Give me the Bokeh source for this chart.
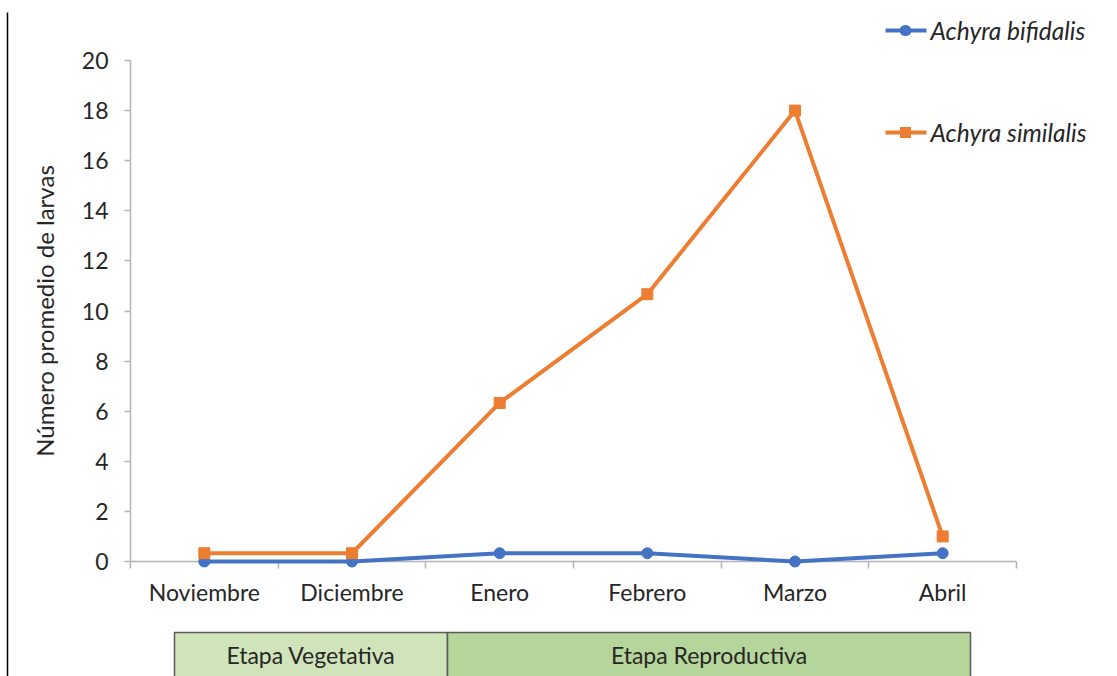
from bokeh.plotting import figure
from bokeh.models import Range1d, FixedTicker
from bokeh.core.properties import value
from bokeh.embed import file_html
from bokeh.resources import INLINE

# --- data -------------------------------------------------------------
meses = ["Noviembre", "Diciembre", "Enero", "Febrero", "Marzo", "Abril"]
bifidalis = [0.0, 0.0, 0.33, 0.33, 0.0, 0.33]
similalis = [0.33, 0.33, 6.33, 10.67, 18.0, 1.0]
y_ticks = list(range(0, 21, 2))
etapas = ["Etapa Vegetativa", "Etapa Reproductiva"]
especies = ["Achyra bifidalis", "Achyra similalis"]

# --- layout constants (pixels) ---------------------------------------
W, H = 1117, 676
FRAME_L, FRAME_R, FRAME_T, FRAME_B = 130, 1016, 60, 561
Y_MAX = 20
N = len(meses)
px_x = (FRAME_R - FRAME_L) / N
px_y = (FRAME_B - FRAME_T) / Y_MAX


def dx(px):
    return (px - FRAME_L) / px_x


def dy(py):
    return (FRAME_B - py) / px_y


FONT = value("Lato")
BLUE = "#4472C4"
ORANGE = "#ED7D31"
AXIS_GREY = "#B4B4B4"
TEXT = "#262626"

xs = [i + 0.5 for i in range(N)]

p = figure(
    width=W, height=H, output_backend="svg", toolbar_location=None,
    x_range=Range1d(0, N), y_range=Range1d(0, Y_MAX),
    min_border_left=FRAME_L, min_border_right=W - FRAME_R,
    min_border_top=FRAME_T, min_border_bottom=H - FRAME_B,
    background_fill_color="white", border_fill_color="white",
)
p.outline_line_color = None
p.xgrid.visible = False
p.ygrid.visible = False

# x axis: month names centred between tick marks
xa = p.xaxis[0]
xa.ticker = FixedTicker(ticks=xs, minor_ticks=list(range(N + 1)))
xa.major_label_overrides = {x: m for x, m in zip(xs, meses)}
xa.major_tick_out = 0
xa.major_tick_in = 0
xa.minor_tick_out = 7
xa.minor_tick_in = 0
xa.minor_tick_line_color = AXIS_GREY
xa.minor_tick_line_width = 1.5
xa.axis_line_color = AXIS_GREY
xa.axis_line_width = 1.5
xa.major_label_text_font = "Lato"
xa.major_label_text_font_size = "23px"
xa.major_label_text_color = TEXT
xa.major_label_standoff = 9

# y axis
ya = p.yaxis[0]
ya.ticker = FixedTicker(ticks=y_ticks, minor_ticks=[])
ya.major_tick_out = 6
ya.major_tick_in = 0
ya.major_tick_line_color = AXIS_GREY
ya.major_tick_line_width = 1.5
ya.axis_line_color = AXIS_GREY
ya.axis_line_width = 1.5
ya.major_label_text_font = "Lato"
ya.major_label_text_font_size = "23px"
ya.major_label_text_color = TEXT
ya.major_label_standoff = 16
ya.axis_label = "Número promedio de larvas"
ya.axis_label_text_font = "Lato"
ya.axis_label_text_font_size = "24px"
ya.axis_label_text_font_style = "normal"
ya.axis_label_text_color = TEXT
ya.axis_label_standoff = 20

# series (drawn at overlay level so markers on the zero line are not cut)
p.line(xs, bifidalis, line_color=BLUE, line_width=4, level="overlay")
p.scatter(xs, bifidalis, marker="circle", size=11, fill_color=BLUE,
          line_color=BLUE, level="overlay")
p.line(xs, similalis, line_color=ORANGE, line_width=4, level="overlay")
p.scatter(xs, similalis, marker="square", size=11, fill_color=ORANGE,
          line_color=ORANGE, level="overlay")

# legend keys in the top-right corner (above the plotting frame)
key_x0, key_x1, key_xm = dx(885), dx(926), dx(905)
key_y = [dy(30), dy(132)]
eps = 0.002
for label, color, ky in zip(especies, [BLUE, ORANGE], key_y):
    p.segment(x0=[key_x0], y0=[ky], x1=[key_x1], y1=[ky],
              line_color=color, line_width=4, level="overlay")
    p.text(x=[dx(930)], y=[ky], text=[label],
           text_font=FONT, text_font_size="24.5px", text_font_style="italic",
           text_color=TEXT, text_align="left", text_baseline="middle",
           level="overlay")
# circle key: a very short round-capped stroke
p.segment(x0=[key_xm - eps], y0=[key_y[0]], x1=[key_xm + eps], y1=[key_y[0]],
          line_color=BLUE, line_width=11, line_cap="round", level="overlay")
# square key: a very short butt-capped thick stroke
sq_w = 11 / px_x / 2
p.segment(x0=[key_xm - sq_w], y0=[key_y[1]], x1=[key_xm + sq_w], y1=[key_y[1]],
          line_color=ORANGE, line_width=11, line_cap="butt", level="overlay")

# growth stage boxes below the month labels
box_top = dy(632)
box_bot = dy(H + 10)
edges = [dx(174), dx(447), dx(970)]
p.quad(left=edges[:-1], right=edges[1:], top=box_top, bottom=box_bot,
       fill_color=["#D0E4BC", "#B6D59B"], line_color="#5A5A5A", line_width=1.5,
       level="overlay")
p.text(x=[(edges[0] + edges[1]) / 2, (edges[1] + edges[2]) / 2],
       y=[dy(654)] * 2, text=etapas,
       text_font=FONT, text_font_size="23px", text_color=TEXT,
       text_align="center", text_baseline="middle", level="overlay")

# vertical rule along the left edge
p.segment(x0=[dx(7)], y0=[dy(12)], x1=[dx(7)], y1=[dy(H + 10)],
          line_color="black", line_width=1.5, level="overlay")

open("out.html", "w").write(file_html(p, INLINE))
